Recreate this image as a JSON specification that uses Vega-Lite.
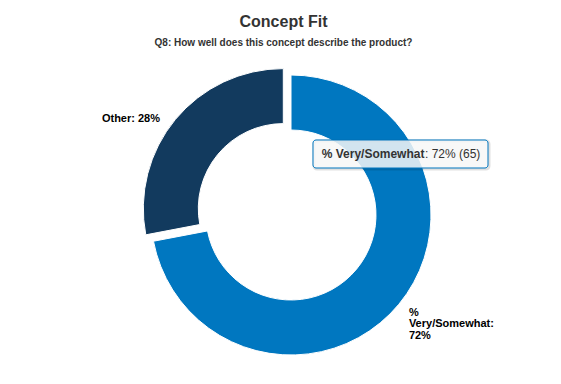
{
  "$schema": "https://vega.github.io/schema/vega-lite/v6.json",
  "width": 300,
  "height": 300,
  "autosize": {"type": "none"},
  "padding": {"left": 141, "top": 65, "right": 120, "bottom": 19},
  "background": "white",
  "title": {
    "text": "Concept Fit",
    "subtitle": "Q8: How well does this concept describe the product?",
    "anchor": "middle",
    "frame": "group",
    "dx": -7.5,
    "offset": 17,
    "font": "Liberation Sans",
    "fontSize": 16,
    "fontWeight": "bold",
    "color": "#333333",
    "subtitleFont": "Liberation Sans",
    "subtitleFontSize": 10,
    "subtitleFontWeight": "bold",
    "subtitleColor": "#333333",
    "subtitlePadding": 8
  },
  "config": {"view": {"stroke": null}},
  "data": {
    "values": [
      {"cat": "% Very/Somewhat", "pct": 72, "n": 65},
      {"cat": "Other", "pct": 28, "n": 25}
    ]
  },
  "layer": [
    {
      "mark": {"type": "arc", "innerRadius": 85, "outerRadius": 140, "stroke": "white", "strokeWidth": 1},
      "encoding": {
        "theta": {"field": "pct", "type": "quantitative", "stack": true, "scale": {"domain": [0, 100]}},
        "order": {"field": "pct", "type": "quantitative", "sort": "descending"},
        "color": {"field": "cat", "type": "nominal", "scale": {"domain": ["% Very/Somewhat", "Other"], "range": ["#0077C0", "#123A5E"]}, "legend": null},
        "opacity": {"condition": {"test": "datum.cat === 'Other'", "value": 0}, "value": 1}
      }
    },
    {
      "mark": {"type": "arc", "innerRadius": 85, "outerRadius": 140, "stroke": "white", "strokeWidth": 1, "xOffset": -7.7, "yOffset": -6.4},
      "encoding": {
        "theta": {"field": "pct", "type": "quantitative", "stack": true},
        "order": {"field": "pct", "type": "quantitative", "sort": "descending"},
        "color": {"field": "cat", "type": "nominal", "legend": null},
        "opacity": {"condition": {"test": "datum.cat === 'Other'", "value": 1}, "value": 0}
      }
    },
    {
      "mark": {"type": "text", "radius": 170, "align": "right", "baseline": "middle", "dy": 12, "font": "Liberation Sans", "fontSize": 11, "fontWeight": "bold", "color": "#000000", "text": {"expr": "datum.cat + ': ' + datum.pct + '%'"}},
      "encoding": {
        "theta": {"field": "pct", "type": "quantitative", "stack": true},
        "order": {"field": "pct", "type": "quantitative", "sort": "descending"},
        "detail": {"field": "cat", "type": "nominal"},
        "opacity": {"condition": {"test": "datum.cat === 'Other'", "value": 1}, "value": 0}
      }
    },
    {
      "mark": {"type": "text", "radius": 153, "align": "left", "baseline": "middle", "lineHeight": 11.5, "font": "Liberation Sans", "fontSize": 11, "fontWeight": "bold", "color": "#000000", "text": {"expr": "split(datum.cat + ': ' + datum.pct + '%', ' ')"}},
      "encoding": {
        "theta": {"field": "pct", "type": "quantitative", "stack": true},
        "order": {"field": "pct", "type": "quantitative", "sort": "descending"},
        "detail": {"field": "cat", "type": "nominal"},
        "opacity": {"condition": {"test": "datum.cat === 'Other'", "value": 0}, "value": 1}
      }
    },
    {
      "transform": [{"filter": "datum.cat === 'Other'"}],
      "layer": [
        {
          "mark": {"type": "rule", "x": {"expr": "width/2-124.5"}, "y": {"expr": "height/2-97.7"}, "x2": {"expr": "width/2-120.5"}, "y2": {"expr": "height/2-97.2"}, "color": "#123A5E", "strokeWidth": 1},
          "encoding": {}
        },
        {
          "mark": {"type": "rule", "x": {"expr": "width/2-120.5"}, "y": {"expr": "height/2-97.2"}, "x2": {"expr": "width/2-116"}, "y2": {"expr": "height/2-93.5"}, "color": "#123A5E", "strokeWidth": 1},
          "encoding": {}
        }
      ]
    },
    {
      "transform": [{"filter": "datum.cat === '% Very/Somewhat'"}],
      "layer": [
        {
          "mark": {"type": "rect", "x": {"expr": "width/2+23"}, "x2": {"expr": "width/2+198"}, "y": {"expr": "height/2-74"}, "y2": {"expr": "height/2-46"}, "fill": null, "stroke": "#000000", "strokeOpacity": 0.12, "strokeWidth": 3, "cornerRadius": 3},
          "encoding": {}
        },
        {
          "mark": {"type": "rect", "x": {"expr": "width/2+22"}, "x2": {"expr": "width/2+197"}, "y": {"expr": "height/2-75"}, "y2": {"expr": "height/2-47"}, "fill": "#f7f7f7", "fillOpacity": 0.85, "stroke": "#0077C0", "strokeWidth": 1, "cornerRadius": 3},
          "encoding": {}
        },
        {
          "mark": {"type": "text", "x": {"expr": "width/2+30.7"}, "y": {"expr": "height/2-61"}, "align": "left", "baseline": "middle", "font": "Liberation Sans", "fontSize": 12, "fontWeight": "bold", "color": "#333333"},
          "encoding": {"text": {"field": "cat", "type": "nominal"}}
        },
        {
          "mark": {"type": "text", "x": {"expr": "width/2+134"}, "y": {"expr": "height/2-61"}, "align": "left", "baseline": "middle", "font": "Liberation Sans", "fontSize": 12, "color": "#333333", "text": {"expr": "': ' + datum.pct + '% (' + datum.n + ')'"}},
          "encoding": {}
        }
      ]
    }
  ]
}
